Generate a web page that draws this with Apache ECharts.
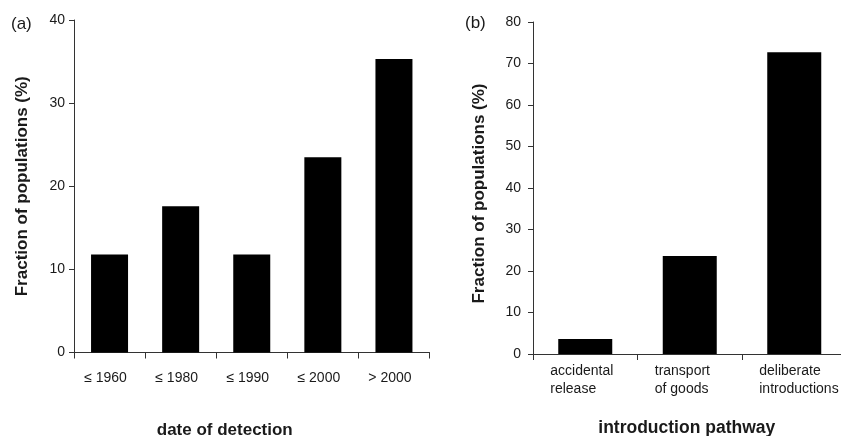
<!DOCTYPE html>
<html>
<head>
<meta charset="utf-8">
<script src="https://cdn.jsdelivr.net/npm/echarts@6/dist/echarts.min.js"></script>
<style>
  html, body { margin: 0; padding: 0; background: #fff; }
  #chart { width: 841px; height: 436px; }
</style>
</head>
<body>
<div id="chart"></div>
<script>
// Panel (a): share of populations by date of detection
const periodLabels = ['≤ 1960', '≤ 1980', '≤ 1990', '≤ 2000', '> 2000'];
const periodShares = [11.8, 17.6, 11.8, 23.5, 35.3];
const periodAxis = { min: 0, max: 40, step: 10 };

// Panel (b): share of populations by introduction pathway
const pathwayLabels = [['accidental', 'release'], ['transport', 'of goods'], ['deliberate', 'introductions']];
const pathwayShares = [3.6, 23.6, 72.7];
const pathwayAxis = { min: 0, max: 80, step: 10 };

const FONT = 'Liberation Sans, Arial, sans-serif';
const INK = '#1a1a1a';
const AXIS = '#333';

const chart = echarts.init(document.getElementById('chart'), null, { renderer: 'canvas' });

function valueAxis(gridIndex, range, labelMargin, namePad) {
  return {
    type: 'value',
    gridIndex,
    min: range.min,
    max: range.max,
    interval: range.step,
    name: 'Fraction of populations (%)',
    nameLocation: 'middle',
    nameGap: gridIndex === 0 ? 43 : 45,
    nameTextStyle: { fontFamily: FONT, fontSize: 17, fontWeight: 'bold', color: INK, lineHeight: 17, padding: namePad },
    axisLine: { show: true, lineStyle: { color: AXIS, width: 1 } },
    axisTick: { show: true, length: 5, lineStyle: { color: AXIS } },
    axisLabel: { fontFamily: FONT, fontSize: 14, color: INK, margin: labelMargin },
    splitLine: { show: false }
  };
}

chart.setOption({
  animation: false,
  backgroundColor: '#fff',
  grid: [
    { left: 74, top: 20, width: 355.5, height: 332.5, containLabel: false, outerBoundsMode: 'none' },
    { left: 533, top: 22, width: 313.5, height: 332, containLabel: false, outerBoundsMode: 'none' }
  ],
  graphic: [
    { type: 'text', left: 11, top: 16, style: { text: '(a)', font: '17px ' + FONT, fill: INK } },
    { type: 'text', left: 465, top: 15, style: { text: '(b)', font: '17px ' + FONT, fill: INK } }
  ],
  xAxis: [
    {
      type: 'category',
      gridIndex: 0,
      data: periodLabels,
      name: 'date of detection',
      nameLocation: 'middle',
      nameGap: 69,
      nameTextStyle: { fontFamily: FONT, fontSize: 17, fontWeight: 'bold', color: INK, lineHeight: 17, padding: [0, 54, 0, 0] },
      axisLine: { show: true, lineStyle: { color: AXIS, width: 1 } },
      axisTick: { show: true, length: 6, lineStyle: { color: AXIS } },
      axisLabel: { fontFamily: FONT, fontSize: 14, color: INK, margin: 18.5, lineHeight: 14, padding: [0, 8, 0, 0], interval: 0 }
    },
    {
      type: 'category',
      gridIndex: 1,
      data: pathwayLabels.map(l => l.join('\n')),
      name: 'introduction pathway',
      nameLocation: 'middle',
      nameGap: 66,
      nameTextStyle: { fontFamily: FONT, fontSize: 17.5, fontWeight: 'bold', color: INK, lineHeight: 17, padding: [0, 6, 0, 0] },
      axisLine: { show: true, lineStyle: { color: AXIS, width: 1 } },
      axisTick: { show: true, length: 6, lineStyle: { color: AXIS } },
      axisLabel: {
        interval: 0,
        margin: 8,
        formatter: v => v.split('\n').map(s => '{l|' + s + '}').join('\n'),
        rich: { l: { fontFamily: FONT, fontSize: 14, color: INK, lineHeight: 18, width: 70, align: 'left' } }
      }
    }
  ],
  yAxis: [
    valueAxis(0, periodAxis, 9, [0, 0, 0, 0]),
    valueAxis(1, pathwayAxis, 12, [0, 11, 0, 0])
  ],
  series: [
    {
      type: 'bar',
      xAxisIndex: 0,
      yAxisIndex: 0,
      data: periodShares,
      barWidth: 37,
      itemStyle: { color: '#000' }
    },
    {
      type: 'bar',
      xAxisIndex: 1,
      yAxisIndex: 1,
      data: pathwayShares,
      barWidth: 54,
      itemStyle: { color: '#000' }
    }
  ]
});
</script>
</body>
</html>
